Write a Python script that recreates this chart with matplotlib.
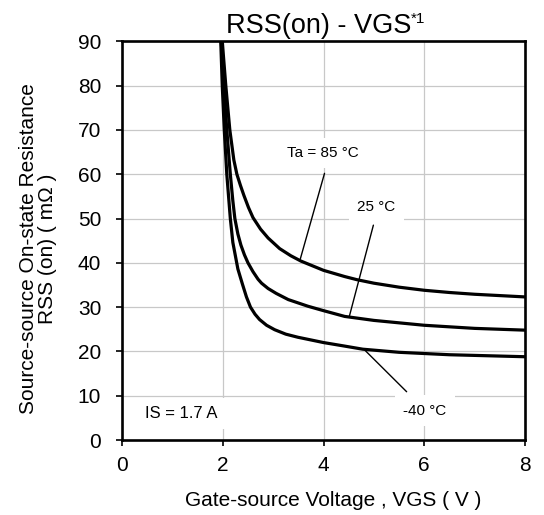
import matplotlib
matplotlib.use("Agg")
import matplotlib.pyplot as plt

plt.rcParams["font.family"] = ["Liberation Sans", "DejaVu Sans"]

# values
vgs_85 = [1.99, 2.06, 2.14, 2.22, 2.28, 2.35, 2.42, 2.51, 2.60, 2.75, 2.90, 3.13, 3.35, 3.55, 4.00,
          4.42, 4.66, 5.00, 5.50, 6.00, 6.50, 7.00, 7.50, 8.00]
rss_85 = [90.0, 80.0, 70.0, 63.2, 60.0, 57.5, 55.2, 52.5, 50.2, 47.6, 45.6, 43.2, 41.6, 40.4, 38.3,
          36.9, 36.2, 35.4, 34.5, 33.8, 33.3, 32.9, 32.6, 32.3]

vgs_25 = [1.97, 2.02, 2.08, 2.15, 2.20, 2.24, 2.30, 2.36, 2.43, 2.50, 2.60, 2.70, 2.77, 2.90, 3.06,
          3.30, 3.69, 4.00, 4.42, 5.00, 6.00, 7.00, 8.00]
rss_25 = [90.0, 80.0, 70.0, 60.0, 54.0, 50.0, 46.5, 44.0, 41.8, 40.0, 38.0, 36.3, 35.4, 34.2, 33.1,
          31.7, 30.2, 29.2, 27.9, 27.0, 25.9, 25.2, 24.8]

vgs_m40 = [1.96, 1.99, 2.03, 2.08, 2.15, 2.20, 2.26, 2.30, 2.39, 2.47, 2.55, 2.64, 2.73, 2.87, 3.03,
           3.25, 3.49, 4.00, 4.42, 4.78, 5.50, 6.50, 8.00]
rss_m40 = [90.0, 80.0, 70.0, 60.0, 50.0, 44.6, 41.0, 38.6, 35.2, 32.3, 30.0, 28.4, 27.2, 25.9, 24.9,
           23.9, 23.2, 22.0, 21.2, 20.5, 19.8, 19.25, 18.8]

x_ticks = [0, 2, 4, 6, 8]
y_ticks = [0, 10, 20, 30, 40, 50, 60, 70, 80, 90]

# curve labels: text, text position, leader start, leader end (on curve)
labels = ["Ta = 85 \u00b0C", "25 \u00b0C", "-40 \u00b0C"]
label_pos = [(3.99, 64.8), (5.05, 52.5), (6.01, 6.6)]
leader_from = [(4.02, 60.2), (4.99, 48.5), (5.65, 10.9)]
leader_to = [(3.53, 40.5), (4.51, 27.8), (4.81, 20.4)]

fig = plt.figure(figsize=(5.44, 5.15), dpi=100)
ax = fig.add_axes([0.2243, 0.1456, 0.7408, 0.7742])

for xs, ys in [(vgs_85, rss_85), (vgs_25, rss_25), (vgs_m40, rss_m40)]:
    ax.plot(xs, ys, color="black", lw=2.3, solid_joinstyle="round", zorder=3)

ax.set_xlim(0, 8)
ax.set_ylim(0, 90)
ax.set_xticks(x_ticks)
ax.set_yticks(y_ticks)
ax.grid(True, color="#c8c8c8", lw=0.9)
ax.set_axisbelow(True)
for s in ax.spines.values():
    s.set_linewidth(1.9)
ax.tick_params(axis="both", direction="out", length=4.5, width=1.2, labelsize=15)
ax.tick_params(axis="x", pad=7)
ax.tick_params(axis="y", pad=10.5)

fig.text(0.612, 0.018, "Gate-source Voltage , VGS ( V )", ha="center", va="baseline", fontsize=15)
fig.text(0.069, 0.517, "Source-source On-state Resistance\nRSS (on) ( m\u03a9 )",
         rotation=90, ha="center", va="center", multialignment="center",
         linespacing=1.0, fontsize=15)

fig.text(0.5855, 0.936, "RSS(on) - VGS", ha="center", va="baseline", fontsize=19.5)
fig.text(0.756, 0.956, "*1", ha="left", va="baseline", fontsize=11)

box = dict(facecolor="white", edgecolor="none", pad=6)
for txt, p, a, b in zip(labels, label_pos, leader_from, leader_to):
    ax.annotate("", xy=b, xytext=a,
                arrowprops=dict(arrowstyle="-", color="black", lw=1.0, shrinkA=0, shrinkB=0), zorder=4)
    ax.text(p[0], p[1], txt, ha="center", va="center", fontsize=11, bbox=box, zorder=4)

ax.text(1.18, 6.0, "IS = 1.7 A", ha="center", va="center", fontsize=12, bbox=box, zorder=4)

fig.savefig("out.png", dpi=100)
